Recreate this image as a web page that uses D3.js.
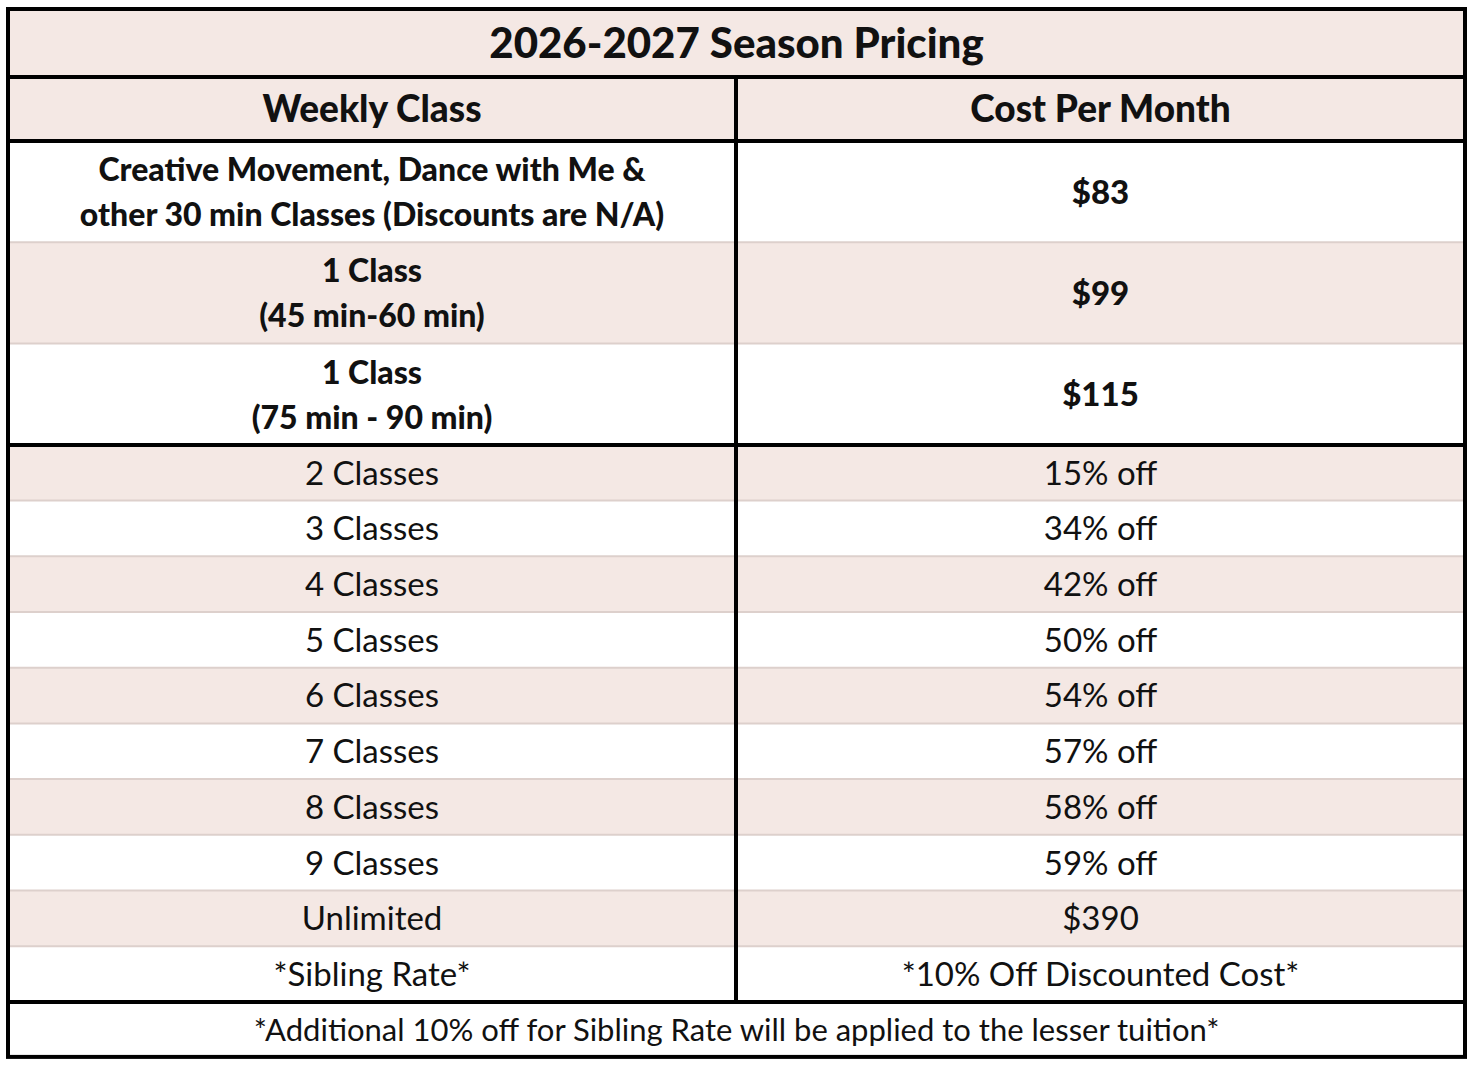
<!DOCTYPE html>
<html><head><meta charset="utf-8">
<script src="https://cdn.jsdelivr.net/npm/d3@7"></script>
<style>body{margin:0;background:#fff}text{font-family:Lato,"Open Sans",sans-serif;fill:#111}</style>
</head><body><svg id="chart" width="1471" height="1066"></svg>
<script>
var title = "2026-2027 Season Pricing";
var headers = ["Weekly Class", "Cost Per Month"];
var baseClasses = [["Creative Movement, Dance with Me &", "other 30 min Classes (Discounts are N/A)"], ["1 Class", "(45 min-60 min)"], ["1 Class", "(75 min - 90 min)"]];
var basePrices = ["$83", "$99", "$115"];
var multiClasses = ["2 Classes", "3 Classes", "4 Classes", "5 Classes", "6 Classes", "7 Classes", "8 Classes", "9 Classes", "Unlimited", "*Sibling Rate*"];
var multiPrices = ["15% off", "34% off", "42% off", "50% off", "54% off", "57% off", "58% off", "59% off", "$390", "*10% Off Discounted Cost*"];
var footnote = "*Additional 10% off for Sibling Rate will be applied to the lesser tuition*";

var svg = d3.select("#chart");
var x0 = 8, x1 = 1465, xm = 736, pink = "#f4e8e4";

// rows: kind, height
var rows = [{t:"title", h:68, fill:pink}, {t:"head", h:64, fill:pink}];
baseClasses.forEach(function(c, i) { rows.push({t:"base", h:101.3, c:c, p:basePrices[i], fill: i % 2 ? pink : "#fff"}); });
multiClasses.forEach(function(c, i) { rows.push({t:"multi", h:55.7, c:c, p:multiPrices[i], fill: i % 2 ? "#fff" : pink}); });
rows.push({t:"foot", h:55, fill:"#fff"});
var y = 9;
rows.forEach(function(r) { r.y = y; y += r.h; });

var g = svg.append("g");
g.selectAll("rect.row").data(rows).enter().append("rect")
  .attr("x", x0).attr("y", d => d.y).attr("width", x1 - x0).attr("height", d => d.h)
  .attr("fill", d => d.fill);
// thin separators
g.selectAll("line.thin").data(rows.slice(3)).enter().append("line")
  .attr("x1", x0).attr("x2", x1).attr("y1", d => d.y).attr("y2", d => d.y)
  .attr("stroke", "#ddd0cc").attr("stroke-width", 2);

function cx(col) { return col ? (xm + x1) / 2 : (x0 + xm) / 2; }
rows.forEach(function(r) {
  var mid = r.y + r.h / 2;
  if (r.t == "title" || r.t == "foot") {
    g.append("text").attr("x", (x0 + x1) / 2).attr("y", mid).attr("dy", "0.36em").attr("text-anchor", "middle")
      .style("font-size", r.t == "title" ? "42px" : "31px").style("font-weight", r.t == "title" ? 900 : 400)
      .text(r.t == "title" ? title : footnote);
  } else if (r.t == "head") {
    headers.forEach(function(h, i) {
      g.append("text").attr("x", cx(i)).attr("y", mid).attr("dy", "0.36em").attr("text-anchor", "middle")
        .style("font-size", "37px").style("font-weight", 900).text(h);
    });
  } else if (r.t == "base") {
    r.c.forEach(function(l, k) {
      g.append("text").attr("x", cx(0)).attr("y", mid + (k ? 23 : -22)).attr("dy", "0.36em").attr("text-anchor", "middle")
        .style("font-size", "32px").style("font-weight", 900).text(l);
    });
    g.append("text").attr("x", cx(1)).attr("y", mid).attr("dy", "0.36em").attr("text-anchor", "middle")
      .style("font-size", "33px").style("font-weight", 900).text(r.p);
  } else {
    [r.c, r.p].forEach(function(l, i) {
      g.append("text").attr("x", cx(i)).attr("y", mid).attr("dy", "0.36em").attr("text-anchor", "middle")
        .style("font-size", "33px").text(l);
    });
  }
});

// thick lines
var thickY = [rows[1].y, rows[2].y, rows[5].y, rows[rows.length - 1].y];
g.selectAll("line.thick").data(thickY).enter().append("line")
  .attr("x1", x0).attr("x2", x1).attr("y1", d => d).attr("y2", d => d)
  .attr("stroke", "#000").attr("stroke-width", 4);
g.append("line").attr("x1", xm).attr("x2", xm).attr("y1", rows[1].y).attr("y2", rows[rows.length - 1].y)
  .attr("stroke", "#000").attr("stroke-width", 4);
g.append("rect").attr("x", x0).attr("y", 9).attr("width", x1 - x0).attr("height", y - 9)
  .attr("fill", "none").attr("stroke", "#000").attr("stroke-width", 4);
</script></body></html>
